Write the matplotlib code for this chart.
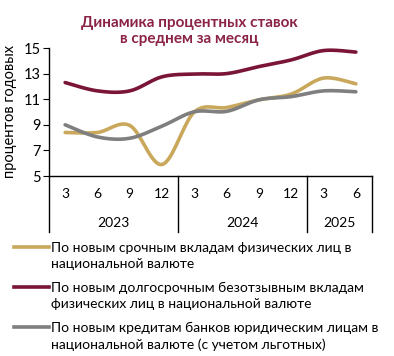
import numpy as np
import matplotlib
matplotlib.use("Agg")
import matplotlib.pyplot as plt
import matplotlib.transforms as mtransforms
from matplotlib.lines import Line2D

## Data
months = ["3", "6", "9", "12", "3", "6", "9", "12", "3", "6"]
years = ["2023", "2024", "2025"]
year_len = [4, 4, 2]

term_dep = [8.4, 8.4, 8.95, 5.9, 10.0, 10.35, 10.95, 11.4, 12.65, 12.2]
long_dep = [12.3, 11.65, 11.65, 12.75, 12.97, 13.0, 13.55, 14.07, 14.8, 14.68]
corp_loan = [9.0, 8.05, 7.95, 8.9, 10.02, 10.05, 10.95, 11.2, 11.65, 11.58]

labels = ["По новым срочным вкладам физических лиц в\nнациональной валюте",
          "По новым долгосрочным безотзывным вкладам\nфизических лиц в национальной валюте",
          "По новым кредитам банков юридическим лицам в\nнациональной валюте (с учетом льготных)"]
colors = ["#C9A85C", "#7A1438", "#7F7F7F"]

plt.rcParams['font.family'] = ['Lato', 'DejaVu Sans']


def smooth(y, n=20):
	## Excel-like smoothed line (Catmull-Rom as cubic Bezier)
	x = np.arange(len(y), dtype=float)
	y = np.asarray(y, dtype=float)
	P = np.column_stack([x, y])
	P = np.vstack([P[0], P, P[-1]])
	out = []
	t = np.linspace(0, 1, n)[:, None]
	for i in range(1, len(P) - 2):
		p0, p3 = P[i], P[i + 1]
		p1 = p0 + (P[i + 1] - P[i - 1]) / 6
		p2 = p3 - (P[i + 2] - P[i]) / 6
		seg = (1 - t)**3 * p0 + 3 * (1 - t)**2 * t * p1 + 3 * (1 - t) * t**2 * p2 + t**3 * p3
		out.append(seg if i == 1 else seg[1:])
	out = np.vstack(out)
	return out[:, 0], out[:, 1]


fig = plt.figure(figsize=(3.94, 3.56), dpi=100)
ax = fig.add_axes([49 / 394, 1 - 176 / 356, (372 - 49) / 394, 128 / 356])

lines = []
for ys, c in zip([term_dep, long_dep, corp_loan], colors):
	sx, sy = smooth(ys)
	l, = ax.plot(sx, sy, color=c, lw=2.6, solid_capstyle='round')
	lines.append(l)

ax.set_xlim(-0.5, len(months) - 0.5)
ax.set_ylim(5, 15)
ax.set_yticks([5, 7, 9, 11, 13, 15])
ax.tick_params(axis='y', direction='out', length=4, labelsize=10.5, pad=2)
ax.set_xticks([])
for s in ["top", "right"]:
	ax.spines[s].set_visible(False)
ax.spines["left"].set_bounds(5, 15)
ax.spines["bottom"].set_linewidth(1)
ax.spines["left"].set_linewidth(1)
ax.set_ylabel("процентов годовых", fontsize=10.5, labelpad=5)

## Category axis
trans = mtransforms.blended_transform_factory(ax.transData, ax.transAxes)
for i, m in enumerate(months):
	ax.text(i, -0.14, m, transform=trans, ha='center', va='center', fontsize=10)
pos = -0.5
ax.plot([pos, pos], [0, -0.44], transform=trans, color='black', lw=1, clip_on=False)
for yr, n in zip(years, year_len):
	ax.text(pos + n / 2, -0.37, yr, transform=trans, ha='center', va='center', fontsize=10)
	pos += n
	ax.plot([pos, pos], [0, -0.44], transform=trans, color='black', lw=1, clip_on=False)

## Title
fig.text(189 / 394, 1 - 31 / 356, "Динамика процентных ставок\nв среднем за месяц",
         ha='center', va='center', fontsize=11, fontweight='bold', color='#8B2346', linespacing=1.25)

## Legend
rows = [247, 287, 327]
for l, lab, r in zip(lines, labels, rows):
	fig.add_artist(Line2D([14 / 394, 49 / 394], [1 - r / 356] * 2, color=l.get_color(), lw=2.6))
	fig.text(51 / 394, 1 - (r - 5) / 356, lab, ha='left', va='top', fontsize=10, linespacing=1.4)

fig.savefig("out.png", dpi=100)
